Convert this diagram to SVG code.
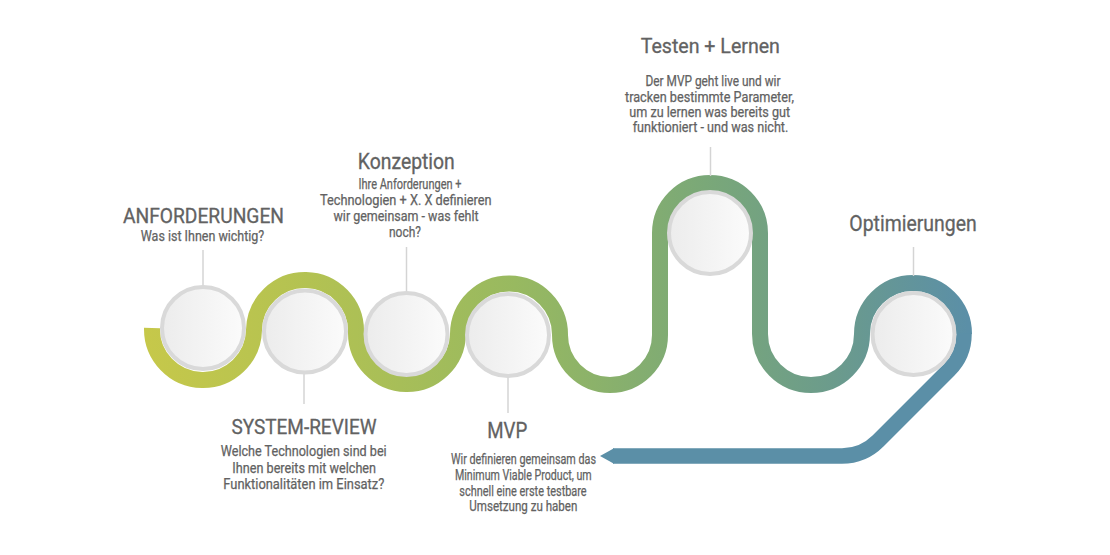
<svg xmlns="http://www.w3.org/2000/svg" width="1110" height="555" viewBox="0 0 1110 555">
<style>
.title{font-family:Roboto,"Liberation Sans",sans-serif;fill:#626262;stroke:#626262;stroke-width:0.3;text-anchor:middle}
.body{font-family:Roboto,"Liberation Sans",sans-serif;font-size:14px;fill:#626262;stroke:#626262;stroke-width:0.25;text-anchor:middle}
.ring{fill:url(#disc);stroke:#d9d9d9;stroke-width:4}
.stem{stroke:#d4d4d4;stroke-width:1.5;fill:none}
</style>
<defs>
<linearGradient id="trackGrad" gradientUnits="userSpaceOnUse" x1="145" y1="0" x2="968" y2="0">
<stop offset="0" stop-color="#c6c84a"/>
<stop offset="0.2" stop-color="#b3c252"/>
<stop offset="0.45" stop-color="#98b960"/>
<stop offset="0.68" stop-color="#7aa878"/>
<stop offset="0.85" stop-color="#6a9a8e"/>
<stop offset="1" stop-color="#5b8fa7"/>
</linearGradient>
<linearGradient id="disc" x1="0" y1="0" x2="1" y2="0">
<stop offset="0" stop-color="#ececec"/>
<stop offset="1" stop-color="#fbfbfb"/>
</linearGradient>
</defs>
<rect width="1110" height="555" fill="#fff"/>
<g id="connectors">
<path d="M152 328 A51 51 0 0 0 254 330 A51 51 0 0 1 356 332 A51 51 0 0 0 458 334 A51 51 0 0 1 560 335 A50 50 0 0 0 660 335 L660 233 A50 50 0 0 1 760 233 L760 334 A51 51 0 0 0 862 334 A51 51 0 0 1 964 334" fill="none" stroke="url(#trackGrad)" stroke-width="16"/>
<path d="M964 333.5 A51 51 0 0 1 949 370 L878 441 Q863 456 842 456 L613 456" fill="none" stroke="#5b8fa7" stroke-width="15.5"/>
<polygon points="614,448.2 600,456 614,463.8" fill="#5b8fa7"/>
</g>
<g id="node-anforderungen">
<line class="stem" x1="203" y1="250" x2="203" y2="287"/>
<circle class="ring" cx="203" cy="328" r="41"/>
<text class="title" x="203.5" y="223.3" font-size="20" textLength="161" lengthAdjust="spacingAndGlyphs">ANFORDERUNGEN</text>
<text class="body" x="202.5" y="240.5" textLength="123.5" lengthAdjust="spacingAndGlyphs">Was ist Ihnen wichtig?</text>
</g>
<g id="node-system-review">
<line class="stem" x1="304" y1="373" x2="304" y2="404"/>
<circle class="ring" cx="305" cy="331.5" r="41"/>
<text class="title" x="304" y="433.5" font-size="20" textLength="145" lengthAdjust="spacingAndGlyphs">SYSTEM-REVIEW</text>
<text class="body" x="303.7" y="456" textLength="166" lengthAdjust="spacingAndGlyphs">Welche Technologien sind bei</text>
<text class="body" x="304.2" y="472.7" textLength="143.7" lengthAdjust="spacingAndGlyphs">Ihnen bereits mit welchen</text>
<text class="body" x="303.8" y="489.3" textLength="161" lengthAdjust="spacingAndGlyphs">Funktionalitäten im Einsatz?</text>
</g>
<g id="node-konzeption">
<line class="stem" x1="406.5" y1="247" x2="406.5" y2="292"/>
<circle class="ring" cx="406.5" cy="334" r="41"/>
<text class="title" x="406.3" y="168.5" font-size="21.5" textLength="97" lengthAdjust="spacingAndGlyphs">Konzeption</text>
<text class="body" x="410" y="189" textLength="103" lengthAdjust="spacingAndGlyphs">Ihre Anforderungen +</text>
<text class="body" x="405.8" y="205" textLength="171.5" lengthAdjust="spacingAndGlyphs">Technologien + X. X definieren</text>
<text class="body" x="406" y="221" textLength="145" lengthAdjust="spacingAndGlyphs">wir gemeinsam - was fehlt</text>
<text class="body" x="405" y="236.7" textLength="32" lengthAdjust="spacingAndGlyphs">noch?</text>
</g>
<g id="node-mvp">
<line class="stem" x1="508" y1="376" x2="508" y2="413"/>
<circle class="ring" cx="508" cy="335" r="41"/>
<text class="title" x="507.3" y="437.5" font-size="21.5" textLength="40" lengthAdjust="spacingAndGlyphs">MVP</text>
<text class="body" x="523.5" y="463.5" textLength="145" lengthAdjust="spacingAndGlyphs">Wir definieren gemeinsam das</text>
<text class="body" x="523.3" y="480" textLength="136.7" lengthAdjust="spacingAndGlyphs">Minimum Viable Product, um</text>
<text class="body" x="523" y="495.5" textLength="127.3" lengthAdjust="spacingAndGlyphs">schnell eine erste testbare</text>
<text class="body" x="523.3" y="511.3" textLength="108" lengthAdjust="spacingAndGlyphs">Umsetzung zu haben</text>
</g>
<g id="node-testen">
<line class="stem" x1="710.5" y1="147" x2="710.5" y2="176"/>
<circle class="ring" cx="710" cy="233" r="41"/>
<text class="title" x="710.3" y="53.3" font-size="21" textLength="139.3" lengthAdjust="spacingAndGlyphs">Testen + Lernen</text>
<text class="body" x="713" y="86" textLength="135" lengthAdjust="spacingAndGlyphs">Der MVP geht live und wir</text>
<text class="body" x="709.5" y="101.7" textLength="169" lengthAdjust="spacingAndGlyphs">tracken bestimmte Parameter,</text>
<text class="body" x="709.7" y="116.7" textLength="160.7" lengthAdjust="spacingAndGlyphs">um zu lernen was bereits gut</text>
<text class="body" x="710.5" y="132.3" textLength="155.7" lengthAdjust="spacingAndGlyphs">funktioniert - und was nicht.</text>
</g>
<g id="node-optimierungen">
<line class="stem" x1="913.5" y1="247" x2="913.5" y2="276"/>
<circle class="ring" cx="913.5" cy="334" r="41"/>
<text class="title" x="913" y="230.5" font-size="21.5" textLength="127.3" lengthAdjust="spacingAndGlyphs">Optimierungen</text>
</g>
</svg>
